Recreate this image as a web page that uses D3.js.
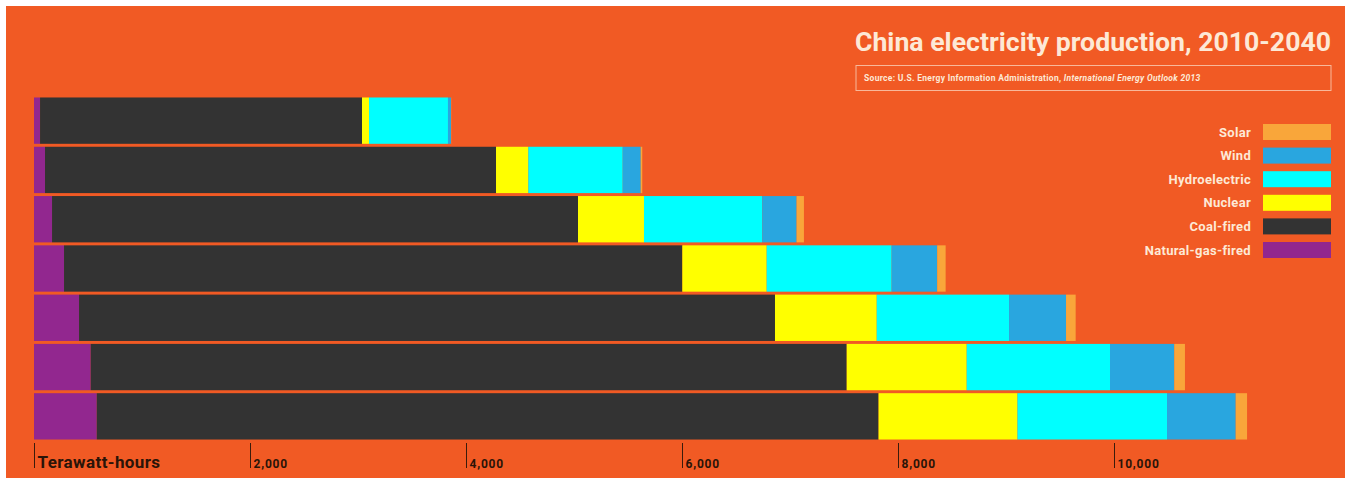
<!DOCTYPE html>
<html>
<head>
<meta charset="utf-8">
<script src="https://cdn.jsdelivr.net/npm/d3@7"></script>
<style>
  body { margin: 0; background: #fff; }
  svg { display: block; }
  text { font-family: "Roboto", "DejaVu Sans", sans-serif; }
</style>
</head>
<body>
<div id="chart"></div>
<script>
// China electricity production by source, terawatt-hours
var years = ["2010", "2015", "2020", "2025", "2030", "2035", "2040"];
var gas     = [56, 102, 167, 278, 417, 525, 581];
var coal    = [2981, 4176, 4870, 5725, 6444, 7000, 7239];
var nuclear = [65, 299, 611, 781, 942, 1111, 1286];
var hydro   = [731, 874, 1095, 1157, 1225, 1327, 1385];
var wind    = [28, 167, 318, 422, 528, 595, 636];
var solar   = [2, 14, 68, 78, 89, 99, 105];

var keys = ["gas", "coal", "nuclear", "hydro", "wind", "solar"];
var names = {gas: "Natural-gas-fired", coal: "Coal-fired", nuclear: "Nuclear",
             hydro: "Hydroelectric", wind: "Wind", solar: "Solar"};
var colors = {gas: "#92278f", coal: "#333333", nuclear: "#ffff00",
              hydro: "#00ffff", wind: "#29a6df", solar: "#f9a63a"};
var xTicks = [0, 2000, 4000, 6000, 8000, 10000];

var width = 1351, height = 482;
var bg = "#f15a24", cream = "#fde9d6";

var rows = years.map(function (y, i) {
    return {year: y, gas: gas[i], coal: coal[i], nuclear: nuclear[i],
            hydro: hydro[i], wind: wind[i], solar: solar[i]};
});

var svg = d3.select("#chart").append("svg")
    .attr("width", width)
    .attr("height", height);

svg.append("rect")
    .attr("x", 6).attr("y", 6)
    .attr("width", width - 12).attr("height", height - 10)
    .attr("fill", bg);

var x = d3.scaleLinear().domain([0, 10000]).range([34, 1114]);
var y = d3.scaleBand().domain(years).range([96, 441])
    .paddingInner(0.06).paddingOuter(0.03);

var series = d3.stack().keys(keys)(rows);

svg.append("g").selectAll("g")
    .data(series)
    .join("g")
    .attr("fill", function (d) { return colors[d.key]; })
    .selectAll("rect")
    .data(function (d) { return d; })
    .join("rect")
    .attr("x", function (d) { return x(d[0]); })
    .attr("y", function (d) { return y(d.data.year); })
    .attr("width", function (d) { return Math.max(0, x(d[1]) - x(d[0])); })
    .attr("height", y.bandwidth());

// year labels at the end of each bar
var top = series[series.length - 1];
svg.append("g").selectAll("text")
    .data(top)
    .join("text")
    .attr("x", function (d) { return x(d[1]) + 14; })
    .attr("y", function (d) { return y(d.data.year) + y.bandwidth() / 2; })
    .attr("dy", "0.35em")
    .attr("fill", cream)
    .attr("font-size", 17.5)
    .attr("font-weight", 700)
    .attr("letter-spacing", 0.5)
    .text(function (d) { return d.data.year; });

// axis
var axis = svg.append("g")
    .attr("transform", "translate(0,443)")
    .call(d3.axisBottom(x).tickValues(xTicks).tickSize(25)
        .tickFormat(function (d) { return d === 0 ? "Terawatt-hours" : d3.format(",")(d); }));
axis.select(".domain").remove();
axis.selectAll(".tick line").attr("stroke", "#3a1c0c").attr("stroke-width", 1);
axis.selectAll(".tick text")
    .attr("text-anchor", "start")
    .attr("x", 3)
    .attr("y", 25)
    .attr("dy", 0)
    .attr("fill", "#2a1408")
    .attr("font-family", "Roboto, sans-serif")
    .attr("font-weight", 700)
    .attr("font-size", function (d) { return d === 0 ? 17 : 12; })
    .attr("letter-spacing", function (d) { return d === 0 ? 0.4 : 0.8; });

// title and source
svg.append("text")
    .attr("x", 855).attr("y", 51)
    .attr("fill", cream)
    .attr("font-size", 26)
    .attr("font-weight", 700)
    .attr("textLength", 476)
    .attr("lengthAdjust", "spacingAndGlyphs")
    .text("China electricity production, 2010-2040");

svg.append("rect")
    .attr("x", 856).attr("y", 65.5)
    .attr("width", 475).attr("height", 25)
    .attr("fill", "none")
    .attr("stroke", "#f8b89a")
    .attr("stroke-width", 1);

var src = svg.append("text")
    .attr("x", 864).attr("y", 81)
    .attr("fill", cream)
    .attr("font-size", 8.5)
    .attr("font-weight", 700)
    .attr("letter-spacing", 0.3);
src.append("tspan").text("Source: U.S. Energy Information Administration, ");
src.append("tspan").attr("font-style", "italic").text("International Energy Outlook 2013");

// legend
var legendKeys = keys.slice().reverse();
var legend = svg.append("g").selectAll("g")
    .data(legendKeys)
    .join("g")
    .attr("transform", function (d, i) { return "translate(0," + (124 + i * 23.6) + ")"; });

legend.append("rect")
    .attr("x", 1263).attr("width", 68).attr("height", 16)
    .attr("fill", function (d) { return colors[d]; });

legend.append("text")
    .attr("x", 1251).attr("y", 8)
    .attr("dy", "0.35em")
    .attr("text-anchor", "end")
    .attr("fill", cream)
    .attr("font-size", 13)
    .attr("font-weight", 700)
    .attr("letter-spacing", 0.3)
    .text(function (d) { return names[d]; });
</script>
</body>
</html>
